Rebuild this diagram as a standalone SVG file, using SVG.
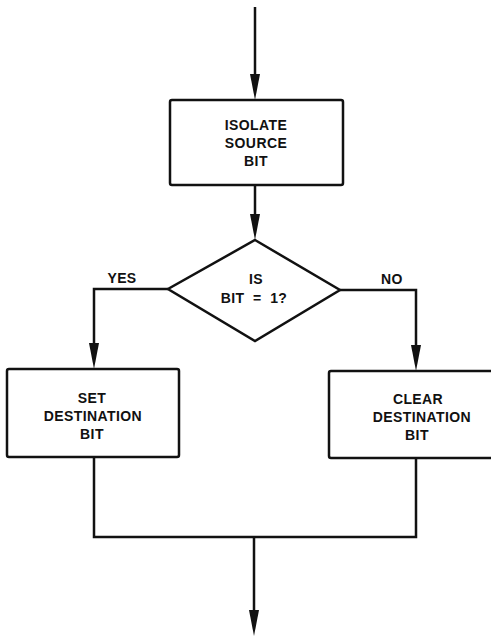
<svg xmlns="http://www.w3.org/2000/svg" width="491" height="637" viewBox="0 0 491 637">
<style>
.box{fill:#fff;stroke:#111;stroke-width:2.5}
.ln{fill:none;stroke:#111;stroke-width:2.5}
text{font-family:"Liberation Sans",Arial,sans-serif;font-weight:bold;font-size:14px;letter-spacing:0.4px;fill:#111;text-anchor:middle;dominant-baseline:central;white-space:pre}
</style>
<rect width="491" height="637" fill="#fff"/>
<g id="connectors">
<line class="ln" x1="255" y1="7" x2="255" y2="74"/>
<path d="M250,74 L260,74 L255,100 Z" fill="#111"/>
<line class="ln" x1="255" y1="185" x2="255" y2="214"/>
<path d="M250,214 L260,214 L255,240 Z" fill="#111"/>
<polyline class="ln" points="168,289 94,289 94,343"/>
<path d="M89,343 L99,343 L94,369 Z" fill="#111"/>
<polyline class="ln" points="340,290 416,290 416,345"/>
<path d="M411,345 L421,345 L416,371 Z" fill="#111"/>
<polyline class="ln" points="94,457 94,537 416,537 416,458"/>
<line class="ln" x1="254" y1="537" x2="254" y2="610"/>
<path d="M249,610 L259,610 L254,636 Z" fill="#111"/>
<text x="122" y="278">YES</text>
<text x="392" y="279">NO</text>
</g>
<g id="isolate">
<rect class="box" x="170" y="100" width="173" height="85" rx="2"/>
<text x="256" y="125">ISOLATE</text>
<text x="256" y="143">SOURCE</text>
<text x="256" y="161">BIT</text>
</g>
<g id="decision">
<polygon class="box" points="255,240 340,290 255,341 168,289"/>
<text x="256" y="279">IS</text>
<text x="254" y="298">BIT  =  1?</text>
</g>
<g id="set">
<rect class="box" x="7" y="369" width="172" height="88" rx="2"/>
<text x="92" y="398">SET</text>
<text x="93" y="416">DESTINATION</text>
<text x="92" y="434">BIT</text>
</g>
<g id="clear">
<rect class="box" x="329" y="371" width="170" height="87" rx="2"/>
<text x="418" y="399">CLEAR</text>
<text x="422" y="417">DESTINATION</text>
<text x="417" y="435">BIT</text>
</g>
</svg>
